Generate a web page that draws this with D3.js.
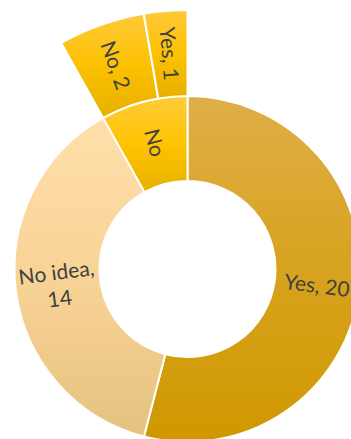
<!DOCTYPE html>
<html>
<head>
<meta charset="utf-8">
<script src="https://cdn.jsdelivr.net/npm/d3@7"></script>
<style>
  html, body { margin: 0; padding: 0; background: #fff; }
  svg { display: block; }
  text { font-family: Lato, "Open Sans", sans-serif; fill: #404040; }
</style>
</head>
<body>
<div id="chart"></div>
<script>
// Main ring: answers to the survey question
const categories = ["Yes", "No idea", "No"];
const values = [20, 14, 3];
// Outer ring: breakdown of the "No" answers
const subCategories = ["No", "Yes"];
const subValues = [2, 1];

// Fill gradients (top → bottom) for each slice group
const gradients = {
  "Yes":     ["#dfae48", "#d8a31e", "#cf9800"],
  "No idea": ["#ffdfab", "#f8d396", "#e6c280"],
  "No":      ["#ffcb3c", "#ffc400", "#e6b000"],
  "sub":     ["#ffc93a", "#fcc100", "#e6b000"]
};

const width = 351, height = 439;
const cx = 187.5, cy = 269;
const rInner = 88, rMain = 173, rOuter = 259;

const svg = d3.select("#chart").append("svg")
  .attr("width", width).attr("height", height);

const defs = svg.append("defs");
Object.entries(gradients).forEach(([key, stops], i) => {
  const g = defs.append("linearGradient")
    .attr("id", "grad" + i)
    .attr("x1", 0).attr("y1", 0).attr("x2", 0).attr("y2", 1);
  stops.forEach((c, j) => g.append("stop")
    .attr("offset", j / (stops.length - 1)).attr("stop-color", c));
  gradients[key].id = "grad" + i;
});

const root = svg.append("g").attr("transform", `translate(${cx},${cy})`);

const pie = d3.pie().sort(null).value(d => d.value);
const mainData = pie(categories.map((c, i) => ({ name: c, value: values[i] })));

const mainArc = d3.arc().innerRadius(rInner).outerRadius(rMain);
root.selectAll("path.main").data(mainData).join("path")
  .attr("class", "main")
  .attr("d", mainArc)
  .attr("fill", d => `url(#${gradients[d.data.name].id})`)
  .attr("stroke", "#fff").attr("stroke-width", 2);

// Outer ring spans exactly the "No" slice
const noSlice = mainData.find(d => d.data.name === "No");
const subPie = d3.pie().sort(null).value(d => d.value)
  .startAngle(noSlice.startAngle).endAngle(noSlice.endAngle);
const subData = subPie(subCategories.map((c, i) => ({ name: c, value: subValues[i] })));

const subArc = d3.arc().innerRadius(rMain).outerRadius(rOuter);
root.selectAll("path.sub").data(subData).join("path")
  .attr("class", "sub")
  .attr("d", subArc)
  .attr("fill", `url(#${gradients.sub.id})`)
  .attr("stroke", "#fff").attr("stroke-width", 2);

const deg = a => a * 180 / Math.PI;
const mid = d => (d.startAngle + d.endAngle) / 2;
const pos = (a, r) => [r * Math.sin(a), -r * Math.cos(a)];
const rMid = (rInner + rMain) / 2;
const rSubMid = (rMain + rOuter) / 2;
const fontSize = 21;

// Labels on the main ring
mainData.forEach(d => {
  const a = mid(d);
  const [x, y] = pos(a, rMid);
  const g = root.append("g");
  if (d.data.name === "No") {
    // radial label, read from the outside in
    g.attr("transform", `translate(${x},${y}) rotate(${deg(a) + 90})`);
    g.append("text").attr("text-anchor", "middle").attr("dy", "0.35em")
      .attr("font-size", fontSize).text(d.data.name);
  } else {
    const ad = deg(a);
    const rot = ad < 180 ? ad - 90 : ad - 270;
    g.attr("transform", `translate(${x},${y}) rotate(${rot})`);
    const lines = d.data.name === "No idea"
      ? [d.data.name + ",", String(d.value)]
      : [d.data.name + ", " + d.value];
    const lh = 1.25;
    lines.forEach((t, i) => {
      g.append("text").attr("text-anchor", "middle")
        .attr("font-size", fontSize)
        .attr("dy", `${0.35 + (i - (lines.length - 1) / 2) * lh}em`)
        .text(t);
    });
  }
});

// Radial labels on the outer ring
subData.forEach(d => {
  const a = mid(d);
  const [x, y] = pos(a, rSubMid);
  root.append("text")
    .attr("transform", `translate(${x},${y}) rotate(${deg(a) + 90})`)
    .attr("text-anchor", "middle").attr("dy", "0.35em")
    .attr("font-size", fontSize)
    .text(`${d.data.name}, ${d.value}`);
});
</script>
</body>
</html>
